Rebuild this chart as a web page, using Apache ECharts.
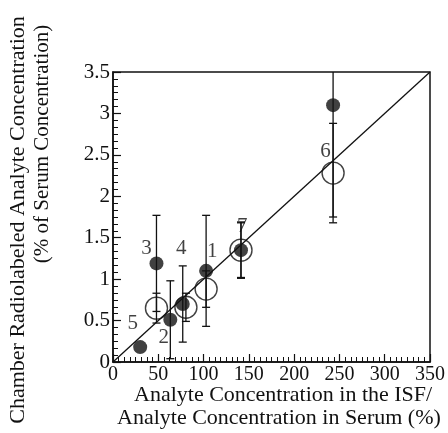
<!DOCTYPE html>
<html>
<head>
<meta charset="utf-8">
<script src="https://cdn.jsdelivr.net/npm/echarts@6/dist/echarts.min.js"></script>
<style>
html, body { margin: 0; padding: 0; background: #fff; }
#chart { width: 448px; height: 433px; }
</style>
</head>
<body>
<div id="chart"></div>
<script>
// filled circles (analytes 1..7)
var filledX = [102.8, 63.3, 48, 77, 30, 243, 141.3];
var filledY = [1.10, 0.51, 1.19, 0.70, 0.18, 3.10, 1.35];
var filledErr = [0.67, 0.47, 0.58, 0.46, 0, 1.35, 0.34];
// open circles
var openX = [102.8, 48, 80.5, 243, 141.3];
var openY = [0.88, 0.65, 0.66, 2.28, 1.35];
var openErr = [0.22, 0.18, 0.17, 0.60, 0.33];
// point numbers and where they sit
var pointNames = ['1', '2', '3', '4', '5', '6', '7'];
var nameX = [109.7, 56, 37, 75.4, 21.9, 234.5, 142.6];
var nameY = [1.33, 0.30, 1.376, 1.376, 0.47, 2.54, 1.63];
// line of identity
var identityX = [0, 350];
var identityY = [0, 3.5];

var FONT = '"Liberation Serif", "DejaVu Serif", serif';
var INK = '#111';

function pairs(xs, ys) {
    return xs.map(function (x, i) { return [x, ys[i]]; });
}
function errData(xs, ys, es) {
    var out = [];
    xs.forEach(function (x, i) {
        if (es[i] > 0) out.push([x, ys[i] - es[i], ys[i] + es[i]]);
    });
    return out;
}
function renderErr(params, api) {
    var x = api.value(0);
    var lo = api.coord([x, api.value(1)]);
    var hi = api.coord([x, api.value(2)]);
    var w = 4;
    var st = { stroke: INK, lineWidth: 1.3 };
    return {
        type: 'group',
        children: [
            { type: 'line', shape: { x1: lo[0], y1: lo[1], x2: hi[0], y2: hi[1] }, style: st },
            { type: 'line', shape: { x1: lo[0] - w, y1: lo[1], x2: lo[0] + w, y2: lo[1] }, style: st },
            { type: 'line', shape: { x1: hi[0] - w, y1: hi[1], x2: hi[0] + w, y2: hi[1] }, style: st }
        ]
    };
}

var chart = echarts.init(document.getElementById('chart'));
var option = {
    backgroundColor: '#fff',
    animation: false,
    grid: {
        left: 113, right: 16, top: 72, bottom: 71,
        show: true, borderColor: INK, borderWidth: 1.5, backgroundColor: 'transparent'
    },
    xAxis: {
        type: 'value', min: 0, max: 350, interval: 50,
        axisLine: { lineStyle: { color: INK, width: 1.5 } },
        axisTick: { inside: true, length: 8, lineStyle: { color: INK, width: 1.2 } },
        minorTick: { show: true, splitNumber: 8, length: 5, lineStyle: { color: INK, width: 1 } },
        splitLine: { show: false },
        axisLabel: { color: INK, fontFamily: FONT, fontSize: 20, margin: 3, showMaxLabel: true }
    },
    yAxis: {
        type: 'value', min: 0, max: 3.5, interval: 0.5,
        axisLine: { lineStyle: { color: INK, width: 1.5 } },
        axisTick: { inside: true, length: 8, lineStyle: { color: INK, width: 1.2 } },
        minorTick: { show: true, splitNumber: 6, length: 5, lineStyle: { color: INK, width: 1 } },
        splitLine: { show: false },
        axisLabel: { color: INK, fontFamily: FONT, fontSize: 21, margin: 3 }
    },
    graphic: [
        {
            type: 'text', x: 18, y: 220, rotation: Math.PI / 2,
            style: { text: 'Chamber Radiolabeled Analyte Concentration', fill: INK, font: '22px ' + FONT, align: 'center', verticalAlign: 'middle' }
        },
        {
            type: 'text', x: 42, y: 144, rotation: Math.PI / 2,
            style: { text: '(% of Serum Concentration)', fill: INK, font: '21px ' + FONT, align: 'center', verticalAlign: 'middle' }
        },
        {
            type: 'text', x: 134, y: 395,
            style: { text: 'Analyte Concentration in the ISF/', fill: INK, font: '22px ' + FONT, align: 'left', verticalAlign: 'middle' }
        },
        {
            type: 'text', x: 117, y: 418,
            style: { text: 'Analyte Concentration in Serum (%)', fill: INK, font: '22px ' + FONT, align: 'left', verticalAlign: 'middle' }
        }
    ],
    series: [
        {
            type: 'line', data: pairs(identityX, identityY), symbol: 'none',
            lineStyle: { color: INK, width: 1.3 }, z: 2
        },
        { type: 'custom', data: errData(openX, openY, openErr), renderItem: renderErr, clip: true, z: 3 },
        { type: 'custom', data: errData(filledX, filledY, filledErr), renderItem: renderErr, clip: true, z: 3 },
        {
            type: 'scatter', data: pairs(openX, openY), symbol: 'circle', symbolSize: 22,
            itemStyle: { color: 'transparent', borderColor: INK, borderWidth: 1.4 }, z: 4
        },
        {
            type: 'scatter', data: pairs(filledX, filledY), symbol: 'circle', symbolSize: 14,
            itemStyle: { color: INK }, z: 5
        },
        {
            type: 'scatter', symbolSize: 0, z: 6,
            data: pointNames.map(function (n, i) { return { name: n, value: [nameX[i], nameY[i]] }; }),
            label: { show: true, position: 'inside', formatter: '{b}', color: INK, fontFamily: FONT, fontSize: 21 }
        }
    ]
};
chart.setOption(option);
</script>
</body>
</html>
